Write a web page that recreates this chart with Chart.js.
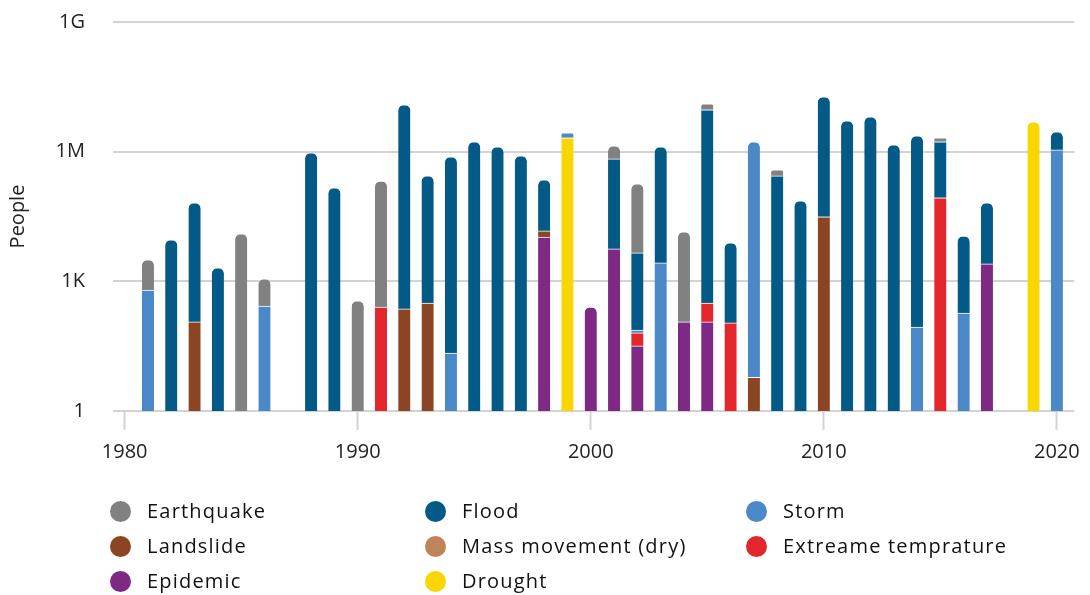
<!DOCTYPE html>
<html>
<head>
<meta charset="utf-8">
<script src="https://cdn.jsdelivr.net/npm/chart.js@4/dist/chart.umd.min.js"></script>
<style>
  html, body { margin: 0; padding: 0; background: #fff; }
  #wrap { position: relative; width: 1090px; height: 595px; }
  canvas { position: absolute; left: 0; top: 0; }
  .lg { position: absolute; font-family: "Open Sans", sans-serif; font-size: 20px; letter-spacing: 1.2px; color: #111; white-space: nowrap; line-height: 24px; }
  .lg .dot { position: absolute; left: 0; top: 1px; width: 21px; height: 21px; border-radius: 50%; }
  .lg .txt { position: absolute; left: 0; top: -1px; }
</style>
</head>
<body>
<div id="wrap">
  <canvas id="c" width="1090" height="595"></canvas>
</div>
<script>
// ---- Data ----
const years = [];
for (let y = 1980; y <= 2020; y++) years.push(y);

const seriesNames = ['Epidemic', 'Landslide', 'Mass movement (dry)', 'Drought', 'Extreame temprature', 'Storm', 'Flood', 'Earthquake'];
const seriesColors = ['#7e2a84', '#8b4522', '#c0845a', '#f9d600', '#e3262b', '#4a88c7', '#045a86', '#818181'];

const N = null;
//                 1980..1989                         1990..1999                                   2000..2009                                        2010..2019                                                  2020
const epidemic   = [N,N,N,N,N,N,N,N,N,N,               N,N,N,N,N,N,N,N,10600,N,                       255,5620,32,N,115,115,N,N,N,N,                     N,N,N,N,N,N,N,2530,N,N,                                      N];
const landslide  = [N,N,N,115,N,N,N,N,N,N,             N,N,230,316,N,N,N,N,4100,N,                    N,N,N,N,N,N,N,6,N,N,                               31000,N,N,N,N,N,N,N,N,N,                                     N];
const massMove   = [N,N,N,N,N,N,N,N,N,N,               N,N,N,N,N,N,N,N,N,N,                           N,N,N,N,N,N,N,N,N,N,                               N,N,N,N,N,N,N,N,N,N,                                         N];
const drought    = [N,N,N,N,N,N,N,N,N,N,               N,N,N,N,N,N,N,N,N,2090000,                     N,N,N,N,N,N,N,N,N,N,                               N,N,N,N,N,N,N,N,N,4900000,                                   N];
const extremeT   = [N,N,N,N,N,N,N,N,N,N,               N,255,N,N,N,N,N,N,N,N,                         N,N,32,N,N,200,109,N,N,N,                          N,N,N,N,N,85300,N,N,N,N,                                     N];
const storm      = [N,631,N,N,N,N,269,N,N,N,           N,N,N,N,22,N,N,N,N,630000,                     N,N,11,2670,N,N,N,1690000,N,N,                     N,N,N,N,88,N,185,N,N,N,                                      1100000];
const flood      = [N,N,9080,65200,2040,N,N,N,940000,145000, N,N,12100000,275000,757000,1690000,1290000,797000,207300,N, N,675000,4465,1290000,N,9300000,7630,N,275000,72600, 18500000,5160000,6390000,1440000,2320000,1600000,11000,62800,N,N, 1770000];
const earthquake = [N,2495,N,N,N,12500,868,N,N,N,      352,209700,N,N,N,N,N,N,N,N,                    N,680000,175500,N,13800,3500000,N,N,104000,N,      N,N,N,N,N,400000,N,N,N,N,                                    N];

const seriesData = [epidemic, landslide, massMove, drought, extremeT, storm, flood, earthquake];

const xTickYears = [1980, 1990, 2000, 2010, 2020];
const yTickValues = [1, 1e3, 1e6, 1e9];
const yTickLabels = ['1', '1K', '1M', '1G'];

// legend layout order (column-major as in the reference)
const legendColumns = [
  ['Earthquake', 'Landslide', 'Epidemic'],
  ['Flood', 'Mass movement (dry)', 'Drought'],
  ['Storm', 'Extreame temprature']
];

// ---- Chart ----
const FONT = '"Open Sans", sans-serif';
const datasets = seriesNames.map((name, i) => ({
  label: name,
  data: years.map((yr, k) => ({ x: yr, y: seriesData[i][k] })).filter(p => p.y !== null),
  backgroundColor: seriesColors[i],
  borderColor: '#ffffff',
  borderWidth: { top: 1, left: 0, right: 0, bottom: 0 },
  borderRadius: 6,
  barThickness: 12,
  stack: 's'
}));

new Chart(document.getElementById('c'), {
  type: 'bar',
  data: { datasets },
  options: {
    responsive: false,
    animation: false,
    layout: { padding: { top: 22, right: 15, bottom: 124, left: 0 } },
    plugins: { legend: { display: false }, tooltip: { enabled: false } },
    scales: {
      x: {
        type: 'linear',
        stacked: true,
        offset: false,
        min: 1979.5,
        max: 2020.75,
        afterBuildTicks: s => { s.ticks = xTickYears.map(v => ({ value: v })); },
        afterFit: s => { s.height = 60; },
        grid: { offset: false, drawOnChartArea: false, drawTicks: true, tickLength: 19, tickColor: '#d3d3d3', tickWidth: 2 },
        border: { display: false },
        ticks: { padding: 10, color: '#222', font: { family: FONT, size: 20 }, callback: v => String(v), maxRotation: 0 }
      },
      y: {
        type: 'logarithmic',
        stacked: true,
        min: 1,
        max: 1e9,
        afterBuildTicks: s => { s.ticks = yTickValues.map(v => ({ value: v })); },
        afterFit: s => { s.width = 113; },
        grid: { color: '#d3d3d3', lineWidth: 2, drawTicks: true, tickLength: 28, tickColor: 'rgba(0,0,0,0)' },
        border: { display: false },
        ticks: {
          padding: 0, color: '#222', font: { family: FONT, size: 20 },
          callback: v => { const i = yTickValues.indexOf(v); return i >= 0 ? yTickLabels[i] : ''; }
        },
        title: { display: true, text: 'People', color: '#222', font: { family: FONT, size: 20 }, padding: { top: 6, bottom: 0 } }
      }
    }
  }
});

// ---- HTML legend ----
const wrap = document.getElementById('wrap');
const colX = [110, 425, 746];
const rowY = [500, 535, 570];
legendColumns.forEach((col, ci) => {
  col.forEach((name, ri) => {
    const idx = seriesNames.indexOf(name);
    const item = document.createElement('div');
    item.className = 'lg';
    item.style.left = colX[ci] + 'px';
    item.style.top = rowY[ri] + 'px';
    const dot = document.createElement('span');
    dot.className = 'dot';
    dot.style.background = seriesColors[idx];
    const txt = document.createElement('span');
    txt.className = 'txt';
    txt.style.left = '37px';
    txt.textContent = name;
    item.appendChild(dot);
    item.appendChild(txt);
    wrap.appendChild(item);
  });
});
</script>
</body>
</html>
